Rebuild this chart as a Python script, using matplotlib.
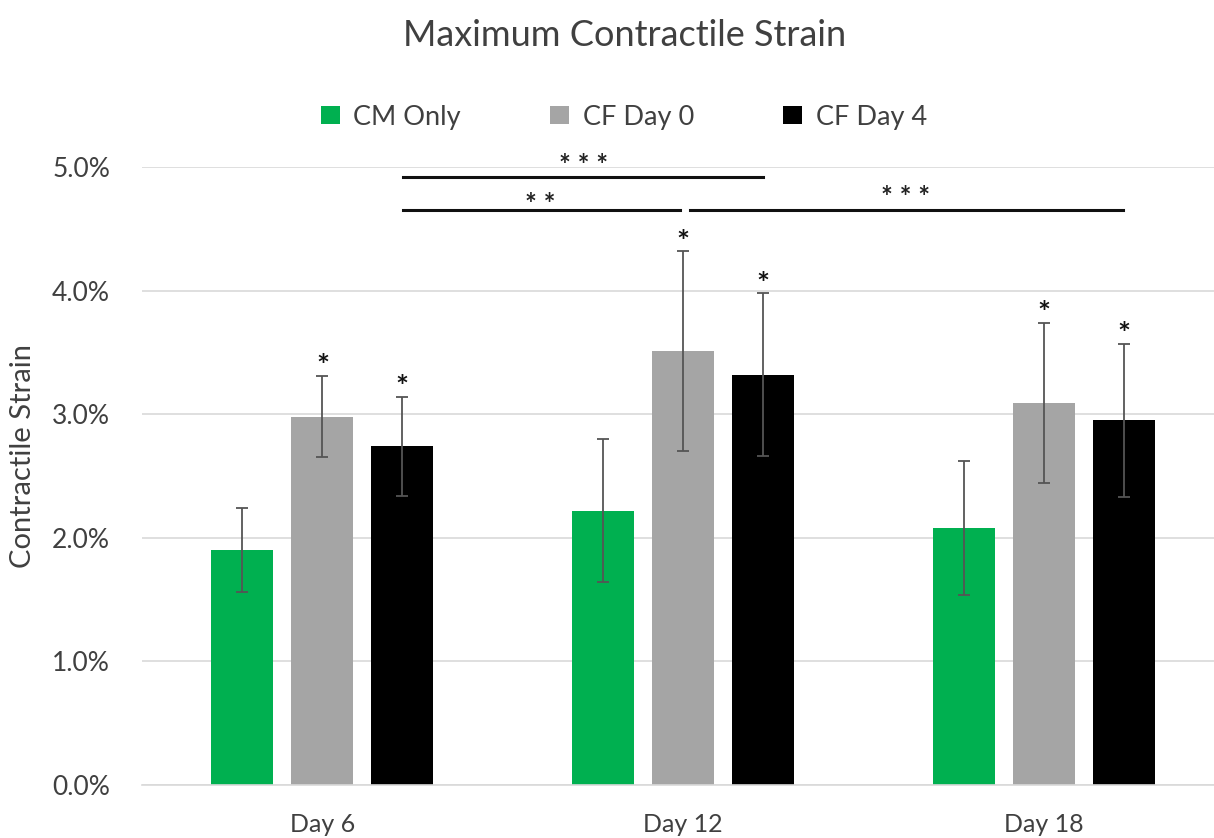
import numpy as np
import matplotlib
matplotlib.use("Agg")
import matplotlib.pyplot as plt
from matplotlib.ticker import FuncFormatter

days = ["Day 6", "Day 12", "Day 18"]
series = ["CM Only", "CF Day 0", "CF Day 4"]
colors = ["#00B050", "#A5A5A5", "#000000"]

# mean strain (%) and error (%) per series, per day
cm_only = [1.90, 2.22, 2.08]
cf_day0 = [2.98, 3.51, 3.09]
cf_day4 = [2.74, 3.32, 2.95]
cm_only_err = [0.34, 0.58, 0.54]
cf_day0_err = [0.33, 0.81, 0.65]
cf_day4_err = [0.40, 0.66, 0.62]

# significance brackets: (x start, x end, y), labels: (x, y, text)
sig_lines = [(0.224, 1.222, 4.92), (0.224, 0.992, 4.65), (1.019, 2.219, 4.65)]
sig_labels = [(0.723, 5.08, "* * *"), (0.604, 4.76, "* *"), (1.615, 4.82, "* * *")]

plt.rcParams['font.family'] = ['Lato', 'DejaVu Sans']

fig = plt.figure(figsize=(12.14, 8.38), dpi=100)
ax = fig.add_axes([142 / 1214, 53 / 838, 1072 / 1214, 618 / 838])

x = np.arange(len(days))
step = 0.2216
width = 0.172
vals = [cm_only, cf_day0, cf_day4]
errs = [cm_only_err, cf_day0_err, cf_day4_err]

for i, (name, v, e, c) in enumerate(zip(series, vals, errs, colors)):
    xs = x + (i - 1) * step
    ax.bar(xs, v, width, color=c, label=name, zorder=2)
    ax.errorbar(xs, v, yerr=e, fmt="none", ecolor="#555555", elinewidth=1.3,
                capsize=4, capthick=1.3, zorder=3)
    if i > 0:
        for xi, vi, ei in zip(xs, v, e):
            ax.text(xi, vi + ei - 0.045, "*", ha="center", va="bottom",
                    fontsize=22, fontweight="bold", color="#111111", zorder=4)

for x0, x1, y in sig_lines:
    ax.plot([x0, x1], [y, y], color="#111111", lw=2.2, clip_on=False, zorder=4)
for xt, yt, t in sig_labels:
    ax.text(xt, yt - 0.07, t, ha="center", va="center", fontsize=20,
            fontweight="bold", color="#222222", clip_on=False)

ax.set_ylim(0, 5.0)
ax.set_xlim(-0.5, 2.471)
ax.set_yticks(np.arange(0, 5.01, 1.0))
ax.yaxis.set_major_formatter(FuncFormatter(lambda v, p: f"{v:.1f}%"))
ax.set_xticks(x)
ax.set_xticklabels(days)
ax.tick_params(axis="both", length=0, labelcolor="#404040")
ax.tick_params(axis="y", pad=23, labelsize=19)
ax.tick_params(axis="x", pad=20, labelsize=18)
ax.grid(axis="y", color="#D9D9D9", lw=1.2, zorder=0)
ax.set_axisbelow(True)
for s in ["top", "right", "left"]:
    ax.spines[s].set_visible(False)
ax.spines["bottom"].set_color("#D9D9D9")
ax.spines["bottom"].set_linewidth(1.2)

fig.text(23 / 1214, 1 - 456 / 838, "Contractile Strain", rotation=90,
         ha="center", va="center", fontsize=21, color="#404040")
fig.text(625 / 1214, 1 - 35 / 838, "Maximum Contractile Strain", ha="center",
         va="center", fontsize=26, color="#404040")

ax.legend(loc="center", bbox_to_anchor=(624 / 1214, 1 - 117 / 838),
          bbox_transform=fig.transFigure, ncol=3, frameon=False, fontsize=19.5,
          handlelength=0.7, handleheight=0.7, columnspacing=3.3, handletextpad=0.5,
          labelcolor="#404040")

fig.savefig("out.png", dpi=100)
